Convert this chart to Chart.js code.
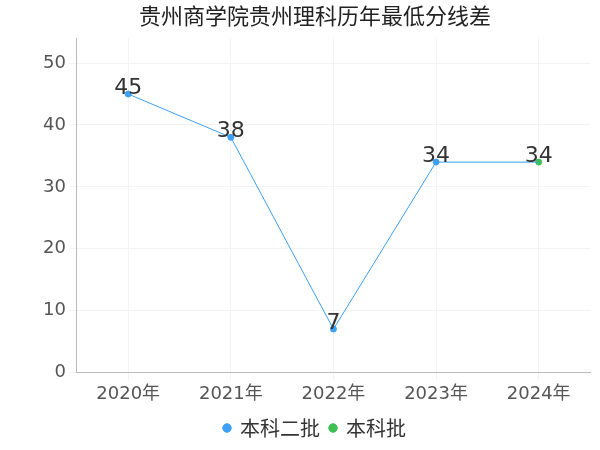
<!DOCTYPE html>
<html><head><meta charset="utf-8">
<script src="https://cdn.jsdelivr.net/npm/chart.js@4/dist/chart.umd.min.js"></script>
<style>body{margin:0;background:#fff}#w{width:600px;height:450px}</style>
</head><body><div id="w"><canvas id="c"></canvas></div>
<script>
const categories=["2020年","2021年","2022年","2023年","2024年"];
const seriesA=[45,38,7,34,34];
const seriesB=[null,null,null,null,34];
const F='"DejaVu Sans","Noto Sans CJK SC"';
const labelsPlugin={id:'lbl',afterDatasetsDraw(ch){
 const ctx=ch.ctx;ctx.save();ctx.font='22px '+F;ctx.fillStyle='#333';ctx.textAlign='center';ctx.textBaseline='bottom';
 ch.getDatasetMeta(0).data.forEach((p,i)=>{if(i<4)ctx.fillText(seriesA[i],p.x,p.y+5);});
 ch.getDatasetMeta(1).data.forEach((p,i)=>{if(seriesB[i]!=null)ctx.fillText(seriesB[i],p.x,p.y+5);});
 ctx.restore();}};
new Chart(document.getElementById('c'),{type:'line',
data:{labels:categories,datasets:[
{label:'本科二批',data:seriesA,borderColor:'#3ea0f5',backgroundColor:'#3ea0f5',borderWidth:1,pointRadius:[3,3,3,3,0],pointHoverRadius:3,tension:0},
{label:'本科批',data:seriesB,borderColor:'#3dbf53',backgroundColor:'#3dbf53',borderWidth:1,pointRadius:3,showLine:false}]},
options:{responsive:true,maintainAspectRatio:false,animation:false,
layout:{padding:{left:40,right:10,top:0,bottom:2}},
plugins:{title:{display:true,text:'贵州商学院贵州理科历年最低分线差',font:{size:22,family:'Noto Sans CJK SC',weight:'normal'},color:'#222',padding:{top:2,bottom:10}},
legend:{position:'bottom',labels:{usePointStyle:true,pointStyle:'circle',boxWidth:6,boxHeight:6,font:{size:20,family:'Noto Sans CJK SC'},color:'#333'}},tooltip:{enabled:false}},
scales:{x:{offset:true,grid:{color:'#f3f3f3'},border:{color:'#bbb'},ticks:{font:{size:18,family:F},color:'#555'}},
y:{min:0,max:54,afterBuildTicks(a){a.ticks=[0,10,20,30,40,50].map(v=>({value:v}));},grid:{color:'#f3f3f3'},border:{color:'#bbb'},ticks:{font:{size:18,family:F},color:'#555'}}}},
plugins:[labelsPlugin]});
</script></body></html>
